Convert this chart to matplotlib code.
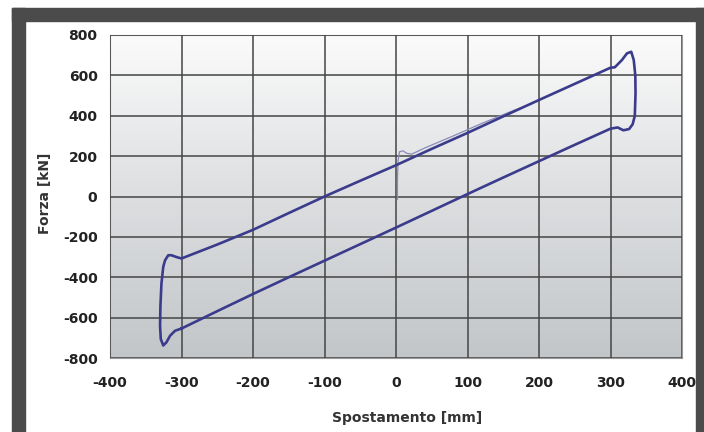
import numpy as np
import matplotlib.pyplot as plt
from matplotlib.colors import LinearSegmentedColormap
from matplotlib.patches import Rectangle

plt.rcParams['axes.unicode_minus'] = False

# hysteresis loop, traced clockwise starting at the lower-left corner
loop_x = [-300, -309, -316, -321, -325.5, -329, -330, -329.5, -328, -325.5, -323,
          -318.5, -314, -307, -300, -250, -200, -150, -100, -50, 0, 50, 100, 150,
          200, 250, 300, 306, 316, 323, 329, 332.5, 334.7, 335, 334, 331, 326,
          318, 310, 300, 250, 200, 150, 100, 50, 0, -50, -100, -150, -200, -250, -300]
loop_y = [-654, -665, -690, -722, -738, -706, -641, -543, -429, -348, -316,
          -291, -291, -300, -307, -238, -165, -82, 0, 78, 155, 236, 315, 397,
          478, 558, 638, 640, 676, 709, 717, 676, 600, 510, 400, 358, 334,
          328, 342, 336, 256, 175, 94, 12, -71, -154, -236, -318, -400, -483, -568, -654]

# first loading from rest
init_x = [2, 2, 3, 5, 10, 15, 22, 40, 80, 120, 160, 190]
init_y = [-15, 80, 180, 222, 226, 214, 210, 240, 300, 362, 420, 460]

xticks = [-400, -300, -200, -100, 0, 100, 200, 300, 400]
yticks = [-800, -600, -400, -200, 0, 200, 400, 600, 800]

W, H = 704, 432
fig = plt.figure(figsize=(W / 100, H / 100), dpi=100)
ax = fig.add_axes([110 / W, 74 / H, 572 / W, 323 / H])

# grey gradient background, light at the top
bg = LinearSegmentedColormap.from_list('bg', ['#c3c6c9', '#dcdee0', '#fbfbfb'])
grad = np.linspace(0, 1, 256).reshape(-1, 1)
ax.imshow(grad, cmap=bg, origin='lower', aspect='auto',
          extent=[-400, 400, -800, 800], zorder=0)

ax.plot(init_x, init_y, color='#8a8ab8', lw=0.9, zorder=3)
ax.plot(loop_x, loop_y, color='#3b3b8c', lw=1.9, zorder=4)

ax.set_xlim(-400, 400)
ax.set_ylim(-800, 800)
ax.set_xticks(xticks)
ax.set_yticks(yticks)
ax.grid(color='#454545', lw=1.1, zorder=1)
ax.set_axisbelow(False)
for s in ax.spines.values():
    s.set_color('#9a9a9a')
    s.set_linewidth(0.8)
ax.tick_params(length=0, labelsize=10, colors='#222222')
ax.tick_params(axis='x', pad=13)
ax.tick_params(axis='y', pad=9)
for lab in ax.get_xticklabels() + ax.get_yticklabels():
    lab.set_fontweight('bold')

fig.text(45 / W, 1 - 193 / H, 'Forza [kN]', rotation=90, ha='center', va='center',
         fontsize=10, fontweight='bold', color='#333333')
fig.text(407 / W, 1 - 418 / H, 'Spostamento [mm]', ha='center', va='center',
         fontsize=10, fontweight='bold', color='#333333')

# dark picture frame
frame = '#4b4b4b'
fig.patches.append(Rectangle((12 / W, 1 - 21 / H), 692 / W, 13 / H, transform=fig.transFigure,
                             color=frame, zorder=10))
fig.patches.append(Rectangle((12 / W, 0), 13 / W, 1 - 8 / H, transform=fig.transFigure,
                             color=frame, zorder=10))
fig.patches.append(Rectangle((696 / W, 0), 8 / W, 1 - 8 / H, transform=fig.transFigure,
                             color=frame, zorder=10))

fig.savefig('out.png', dpi=100)
